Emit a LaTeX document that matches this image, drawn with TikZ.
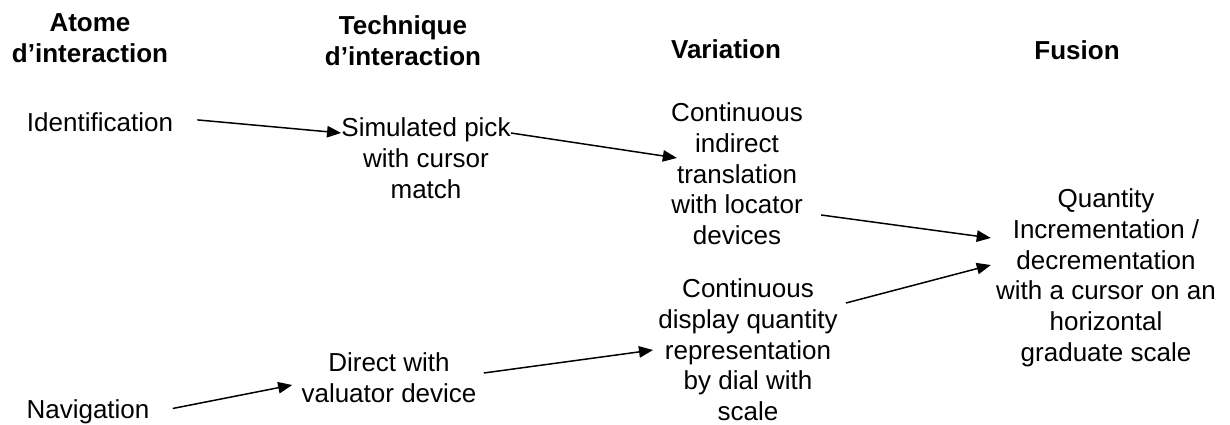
\documentclass[tikz,border=0pt]{standalone}
\usepackage{fontspec}
\setmainfont{Liberation Sans}
\usepackage{tikz}
\usetikzlibrary{calc,arrows.meta}

\tikzset{
  lbl/.style={anchor=north, align=center, inner sep=0pt, font=\fontsize{14.8}{17.6}\selectfont},
  hdr/.style={lbl, font=\fontsize{14.8}{17.6}\selectfont\bfseries},
  link/.style={-{Triangle[length=8pt,width=6.5pt]}, line width=0.85pt}
}

\begin{document}
\begin{tikzpicture}[x=0.02cm, y=-0.02cm]
          \useasboundingbox (0,0) rectangle (1230,425);
          \node[hdr] (atome) at (90,13) {Atome\\d’interaction};
          \node[hdr] (technique) at (403,15) {Technique\\d’interaction};
          \node[hdr] (variation) at (726,39) {Variation};
          \node[hdr] (fusion) at (1077,40) {Fusion};
          \node[lbl] (ident) at (100,112) {Identification};
          \node[lbl] (nav) at (88,399) {Navigation};
          \node[lbl] (sim) at (426,117) {Simulated pick\\with cursor\\match};
          \node[lbl] (direct) at (389,352) {Direct with\\valuator device};
          \node[lbl] (contind) at (737,102) {Continuous\\indirect\\translation\\with locator\\devices};
          \node[lbl] (contdisp) at (748,278) {Continuous\\display quantity\\representation\\by dial with\\scale};
          \node[lbl] (qty) at (1106,188) {Quantity\\Incrementation /\\decrementation\\with a cursor on an\\horizontal\\graduate scale};
          \draw[link] ($(ident.east)+(24,-2)$) -- ($(sim.north west)+(0,16)$);
          \draw[link] ($(sim.north east)+(0,16)$) -- ($(contind.north west)+(6,56)$);
          \draw[link] ($(contind.north east)+(18,113)$) -- ($(qty.north west)+(-5,50)$);
          \draw[link] ($(contdisp.north east)+(8,25)$) -- ($(qty.north west)+(-5,77)$);
          \draw[link] ($(nav.east)+(23,-3)$) -- ($(direct.north west)+(-9,33)$);
          \draw[link] ($(direct.north east)+(7,21)$) -- ($(contdisp.north west)+(-5,72)$);
        \end{tikzpicture}
\end{document}
